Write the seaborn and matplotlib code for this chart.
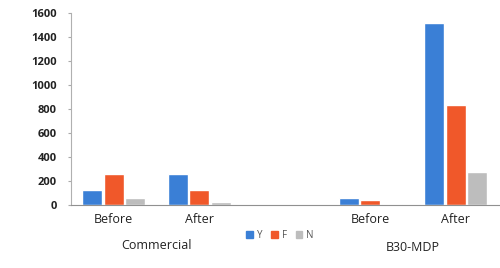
import pandas as pd
import matplotlib.pyplot as plt
import seaborn as sns

# slots on the x axis (middle one is left empty as a spacer)
slots = ["Commercial Before", "Commercial After", "gap", "B30-MDP Before", "B30-MDP After"]
tick_labels = ["Before", "After", "", "Before", "After"]
groups = ["Commercial", "B30-MDP"]
series = ["Y", "F", "N"]

y_vals = [125, 254, 58, 1515]
f_vals = [254, 121, 41, 832]
n_vals = [55, 27, 5, 274]
filled = ["Commercial Before", "Commercial After", "B30-MDP Before", "B30-MDP After"]

colors = ["#3a7fd6", "#f0582a", "#bdbdbd"]

rows = []
for s, vals in zip(series, [y_vals, f_vals, n_vals]):
    for slot, v in zip(filled, vals):
        rows.append({"slot": slot, "resp": s, "count": v})
df = pd.DataFrame(rows)

sns.set_style("white")
plt.rcParams['font.family'] = ['Open Sans', 'DejaVu Sans']

fig = plt.figure(figsize=(5, 2.68), dpi=100)
ax = fig.add_axes([0.142, 0.235, 0.855, 0.718])

sns.barplot(data=df, x="slot", y="count", hue="resp", order=slots,
            hue_order=series, palette=colors, width=0.75, gap=0.06,
            saturation=1, ax=ax, legend=False)

ax.set_ylim(0, 1600)
ax.set_yticks(range(0, 1601, 200))
ax.set_yticklabels([str(v) for v in range(0, 1601, 200)], fontsize=8,
                   fontweight="bold", color="#222222")
ax.set_xticks(range(len(slots)))
ax.set_xticklabels(tick_labels, fontsize=9, color="#222222")
ax.set_xlim(-0.5, len(slots) - 0.5)
ax.set_xlabel("")
ax.set_ylabel("")
ax.tick_params(axis="x", length=0, pad=6)
ax.tick_params(axis="y", length=2, color="#aaaaaa", pad=8, left=True)

for sp in ["top", "right"]:
    ax.spines[sp].set_visible(False)
ax.spines["left"].set_color("#b0b0b0")
ax.spines["bottom"].set_color("#909090")

# group labels
trans = ax.get_xaxis_transform()
ax.text(0.5, -0.21, groups[0], transform=trans, ha="center", va="center",
        fontsize=9, color="#222222")
ax.text(3.5, -0.22, groups[1], transform=trans, ha="center", va="center",
        fontsize=9, color="#222222")

handles = [plt.Rectangle((0, 0), 1, 1, color=c) for c in colors]
fig.legend(handles, series, loc="center", bbox_to_anchor=(0.56, 0.123), ncol=3,
           frameon=False, fontsize=7, handlelength=0.7, handleheight=0.7,
           handletextpad=0.4, columnspacing=0.9, labelcolor="#555555")

fig.savefig("out.png", dpi=100)
